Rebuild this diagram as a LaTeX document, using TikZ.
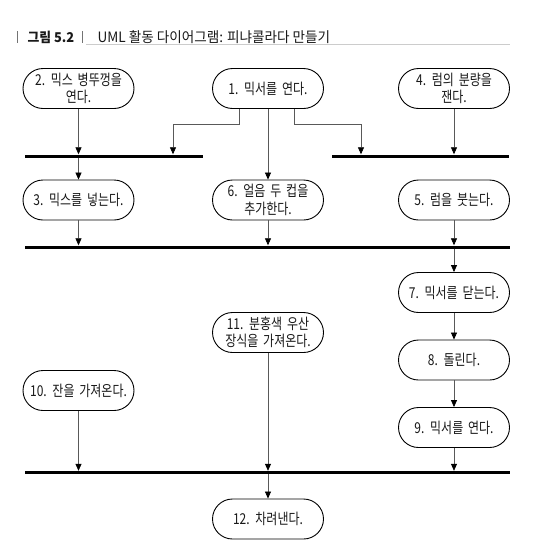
\documentclass[tikz,border=0pt]{standalone}
\usepackage{fontspec}
\setmainfont{Noto Sans CJK KR}[FakeStretch=0.8,WordSpace=1.8]
\newfontfamily\krtitle{Noto Sans CJK KR}[FakeStretch=0.95]
\usetikzlibrary{arrows.meta,shapes.misc}
\tikzset{
  act/.style={rounded rectangle, draw=black, line width=0.9pt,
    minimum width=113pt, minimum height=40pt, inner sep=1pt,
    align=center, text=black!90, font=\fontsize{15}{17.5}\selectfont},
  syncbar/.style={fill=black, inner sep=0pt, minimum height=3pt},
  conn/.style={draw=black!65, line width=0.7pt,
    -{Triangle[length=7pt,width=6pt,color=black]}},
  ttlfont/.style={font=\krtitle\fontsize{14.3}{16}\selectfont, text=black!90},
}
\begin{document}
\begin{tikzpicture}[x=1pt,y=-1pt]
\useasboundingbox (0,0) rectangle (536,552);
\fill[white] (0,0) rectangle (536,552);

% title
\draw[black!55, line width=0.6pt] (17,31) -- (17,43);
\node[ttlfont, anchor=west, font=\krtitle\bfseries\fontsize{13.5}{15}\selectfont] (tnum) at (24,37) {그림 5.2};
\draw[black!55, line width=0.6pt] (82,31) -- (82,43);
\node[ttlfont, anchor=west] (ttl) at (94,37) {UML 활동 다이어그램: 피냐콜라다 만들기};
\draw[black!20, line width=0.5pt] (86,44.5) -- (510,44.5);

% activities
\node[act] (n2) at (78.5,88.5) {2. 믹스 병뚜껑을\\연다.};
\node[act] (n1) at (268,88.5) {1. 믹서를 연다.};
\node[act] (n4) at (454,88.5) {4. 럼의 분량을\\잰다.};

\node[syncbar, minimum width=178pt] (bar1) at (114,156) {};
\node[syncbar, minimum width=177pt] (bar2) at (420.5,156) {};

\node[act] (n3) at (78.5,200) {3. 믹스를 넣는다.};
\node[act] (n6) at (268,200) {6. 얼음 두 컵을\\추가한다.};
\node[act] (n5) at (454,200) {5. 럼을 붓는다.};

\node[syncbar, minimum width=485pt] (bar3) at (267.5,247) {};

\node[act] (n7) at (454,292.5) {7. 믹서를 닫는다.};
\node[act] (n11) at (268,332.5) {11. 분홍색 우산\\장식을 가져온다.};
\node[act] (n8) at (454,360) {8. 돌린다.};
\node[act] (n10) at (78.5,390.5) {10. 잔을 가져온다.};
\node[act] (n9) at (454,427.5) {9. 믹서를 연다.};

\node[syncbar, minimum width=485pt] (bar4) at (267.5,472.5) {};

\node[act] (n12) at (268,519) {12. 차려낸다.};

% fork from node 1
\coordinate (b1l) at (173,124);
\coordinate (b1r) at (361,124);
\draw[conn] ([xshift=-29pt]n1.south) |- (b1l) -- (b1l |- bar1.north);
\draw[conn] ([xshift=26pt]n1.south) |- (b1r) -- (b1r |- bar2.north);
\draw[conn] (n1.south) -- (n6.north);

% top joins
\draw[conn] (n2.south) -- (n2.south |- bar1.north);
\draw[conn] (n3.north |- bar1.south) -- (n3.north);
\draw[conn] (n4.south) -- (n4.south |- bar2.north);

% into bar3
\draw[conn] (n3.south) -- (n3.south |- bar3.north);
\draw[conn] (n6.south) -- (n6.south |- bar3.north);
\draw[conn] (n5.south) -- (n5.south |- bar3.north);

% right column
\draw[conn] (n7.north |- bar3.south) -- (n7.north);
\draw[conn] (n7.south) -- (n8.north);
\draw[conn] (n8.south) -- (n9.north);

% into bar4
\draw[conn] (n10.south) -- (n10.south |- bar4.north);
\draw[conn] (n11.south) -- (n11.south |- bar4.north);
\draw[conn] (n9.south) -- (n9.south |- bar4.north);

% to node 12
\draw[conn] (n12.north |- bar4.south) -- (n12.north);
\end{tikzpicture}
\end{document}
